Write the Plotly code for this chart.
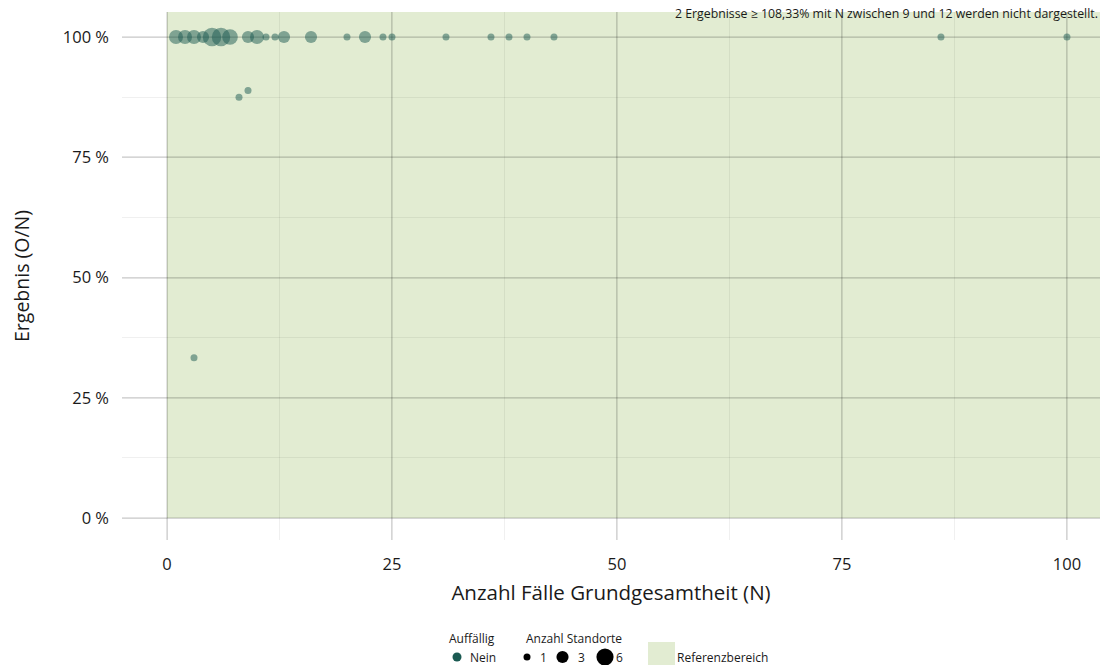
import plotly.graph_objects as go

# ---------------- data ----------------
N_values = [1, 2, 3, 4, 5, 6, 7, 9, 10, 11, 12, 13, 16, 20, 22, 24, 25,
            31, 36, 38, 40, 43, 86, 100, 3, 8, 9]
result_pct = [100, 100, 100, 100, 100, 100, 100, 100, 100, 100, 100, 100,
              100, 100, 100, 100, 100, 100, 100, 100, 100, 100, 100, 100,
              33.33, 87.5, 88.89]
site_counts = [4, 4, 4, 3, 7, 7, 5, 3, 4, 1, 1, 3, 3, 1, 3, 1, 1,
               1, 1, 1, 1, 1, 1, 1, 1, 1, 1]

x_ticks = [0, 25, 50, 75, 100]
y_ticks = [0, 25, 50, 75, 100]
y_ticklabels = ["0 %", "25 %", "50 %", "75 %", "100 %"]
size_legend_values = [1, 3, 6]
size_legend_labels = ["1", "3", "6"]

# ---------------- style ----------------
FONT = "Open Sans"
TXT = "#1a1a1a"
TEAL = "#1b5a52"
GREEN = "#e2ecd2"
SIZEREF = 2 / 49.0           # diameter = 7 * sqrt(count)
X_RANGE = [-5, 103.67]
Y_RANGE = [-4.57, 105.2]
W, H = 1115, 665
OFF = 8                      # page body margin offset
ML, MR, MT = 122 - OFF, 15 + OFF, 12 - OFF
PLOT_BOTTOM = 540 - OFF
paper_h = H - MT
y_dom0 = (H - PLOT_BOTTOM) / paper_h

fig = go.Figure()

# reference area
fig.add_shape(type="rect", xref="x", yref="y", x0=0, x1=X_RANGE[1],
              y0=0, y1=Y_RANGE[1], fillcolor=GREEN, line_width=0, layer="below")

fig.add_trace(go.Scatter(
    x=N_values, y=result_pct, mode="markers",
    marker=dict(size=site_counts, sizemode="area", sizeref=SIZEREF,
                color=TEAL, opacity=0.5, line=dict(width=0)),
    showlegend=False, hoverinfo="x+y"))

# ---------------- legend (auxiliary axes in page pixels) ----------------
LEG_Y = 657
fig.add_trace(go.Scatter(
    x=[457], y=[LEG_Y], xaxis="x2", yaxis="y2", mode="markers",
    marker=dict(size=9, color=TEAL, opacity=1), showlegend=False, cliponaxis=False,
    hoverinfo="skip"))
fig.add_trace(go.Scatter(
    x=[527, 562.5, 605], y=[LEG_Y] * 3, xaxis="x2", yaxis="y2", mode="markers",
    marker=dict(size=size_legend_values, sizemode="area", sizeref=SIZEREF,
                color="black", opacity=1, line=dict(width=0)),
    showlegend=False, cliponaxis=False, hoverinfo="skip"))
fig.add_shape(type="rect", xref="x2", yref="y2", x0=648, x1=675, y0=642, y1=672,
              fillcolor=GREEN, line_width=0)

leg_font = dict(family=FONT, size=12, color=TXT)
ann = [
    dict(text="Auffällig", x=447, y=638),
    dict(text="Nein", x=468, y=LEG_Y),
    dict(text="Anzahl Standorte", x=524, y=638),
    dict(text=size_legend_labels[0], x=538, y=LEG_Y),
    dict(text=size_legend_labels[1], x=576, y=LEG_Y),
    dict(text=size_legend_labels[2], x=614, y=LEG_Y),
    dict(text="Referenzbereich", x=675, y=LEG_Y),
]
for a in ann:
    fig.add_annotation(xref="x2", yref="y2", xanchor="left", yanchor="middle",
                       showarrow=False, font=leg_font, **a)

fig.add_annotation(text="2 Ergebnisse ≥ 108,33% mit N zwischen 9 und 12 werden nicht dargestellt.",
                   xref="paper", yref="paper", x=1, y=1, xanchor="right",
                   yanchor="middle", yshift=-1, showarrow=False,
                   font=dict(family=FONT, size=12.3, color=TXT))

major = "rgba(0,0,0,0.11)"
minor = "rgba(0,0,0,0.06)"

fig.update_layout(
    width=W, height=H,
    margin=dict(l=ML, r=MR, t=MT, b=0),
    paper_bgcolor="white", plot_bgcolor="white",
    font=dict(family=FONT, color=TXT),
    xaxis=dict(range=X_RANGE, domain=[0, 1], anchor="y", automargin=False,
               tickvals=x_ticks, ticktext=[str(v) for v in x_ticks],
               showgrid=True, gridcolor=major, gridwidth=1.5,
               minor=dict(dtick=12.5, tick0=0, showgrid=True, gridcolor=minor, gridwidth=1),
               zeroline=False, showline=False, ticks="",
               ticklabelstandoff=12,
               tickfont=dict(family=FONT, size=16.5, color=TXT),
               title=dict(text="Anzahl Fälle Grundgesamtheit (N)", standoff=12,
                          font=dict(family=FONT, size=20.5, color=TXT))),
    yaxis=dict(range=Y_RANGE, domain=[y_dom0, 1], anchor="x", automargin=False,
               tickvals=y_ticks, ticktext=y_ticklabels,
               showgrid=True, gridcolor=major, gridwidth=1.5,
               minor=dict(dtick=12.5, tick0=0, showgrid=True, gridcolor=minor, gridwidth=1),
               zeroline=False, showline=False, ticks="",
               ticklabelstandoff=12,
               tickfont=dict(family=FONT, size=16.5, color=TXT),
               title=dict(text="Ergebnis (O/N)", standoff=31,
                          font=dict(family=FONT, size=19.5, color=TXT))),
    xaxis2=dict(range=[ML + OFF, W - MR + OFF], domain=[0, 1], anchor="y2",
                visible=False, fixedrange=True),
    yaxis2=dict(range=[H + OFF, PLOT_BOTTOM + OFF], domain=[0, y_dom0], anchor="x2",
                visible=False, fixedrange=True),
)

fig.write_html("out.html")
